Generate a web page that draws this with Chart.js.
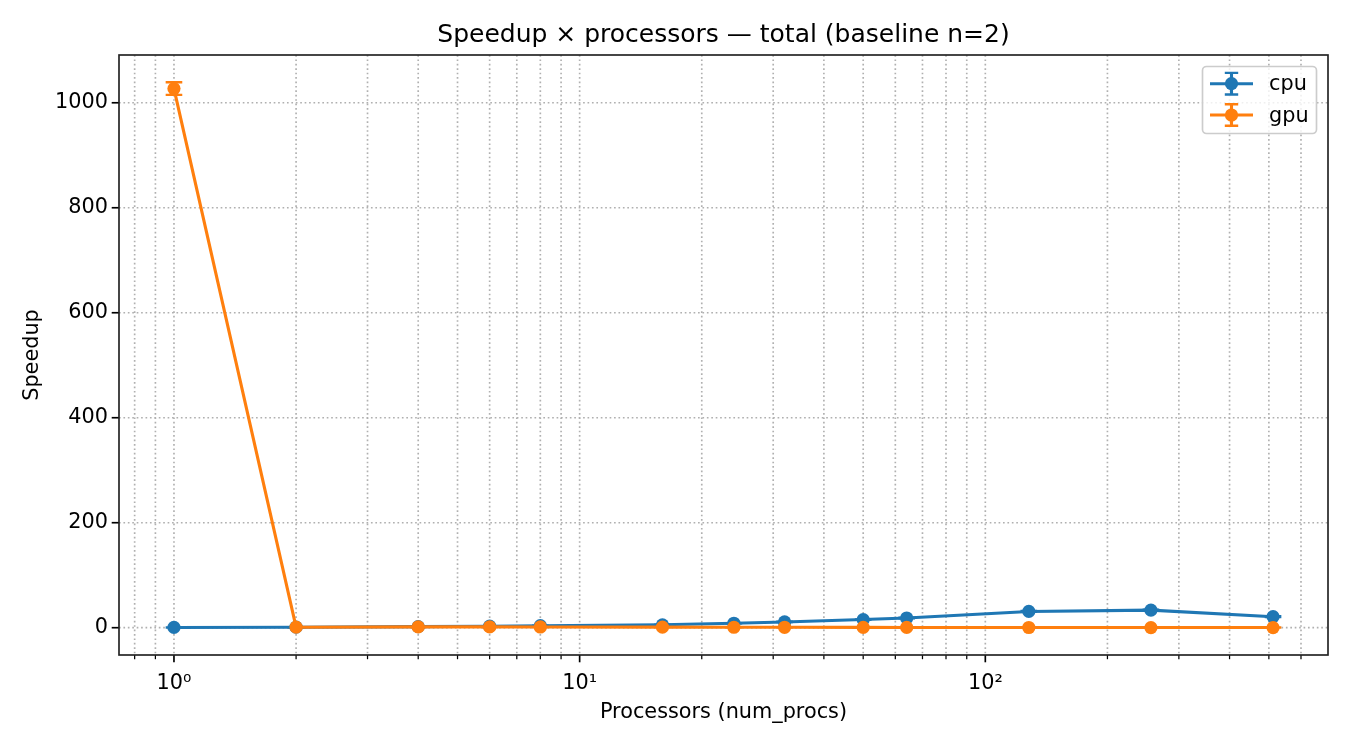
<!DOCTYPE html>
<html>
<head>
<meta charset="utf-8">
<script src="https://cdn.jsdelivr.net/npm/chart.js@4.4.1/dist/chart.umd.min.js"></script>
<style>
  html, body { margin: 0; padding: 0; background: #fff; }
</style>
</head>
<body>
<canvas id="graficoSpeedup" width="1350" height="750"></canvas>
<script>
// datos
const procs = [1, 2, 4, 6, 8, 16, 24, 32, 50, 64, 128, 256, 512];
const cpuSpeedup = [0.5, 1, 2, 2.9, 3.8, 5.5, 8.5, 11, 15.5, 18.5, 31, 33.5, 21];
const cpuErr = [0.02, 0.03, 0.05, 0.08, 0.1, 0.15, 0.2, 0.3, 0.4, 0.5, 0.8, 1, 0.7];
const gpuSpeedup = [1027, 1, 1.5, 1.5, 1.4, 1.1, 0.9, 0.8, 0.6, 0.5, 0.4, 0.3, 0.3];
const gpuErr = [12, 0.05, 0.05, 0.05, 0.05, 0.04, 0.03, 0.03, 0.02, 0.02, 0.02, 0.01, 0.01];
const yTicks = [0, 200, 400, 600, 800, 1000];
const xMajorTicks = [1, 10, 100];
const xMinorTicks = [0.8, 0.9, 2, 3, 4, 5, 6, 7, 8, 9, 20, 30, 40, 50, 60, 70, 80, 90, 200, 300, 400, 500, 600];
const xLim = [0.732, 699.4];
const yLim = [-52, 1091];

const AZUL = "#1f77b4";
const NARANJA = "#ff7f0e";
const FUENTE = "DejaVu Sans";
const sup = { "0": "\u2070", "1": "\u00b9", "2": "\u00b2" };

const series = [
  { label: "cpu", color: AZUL, values: cpuSpeedup, err: cpuErr },
  { label: "gpu", color: NARANJA, values: gpuSpeedup, err: gpuErr }
];

function barraError(ctx, px, y1, y2, medio) {
  ctx.lineWidth = 3.1;
  ctx.beginPath();
  ctx.moveTo(px, y1); ctx.lineTo(px, y2);
  ctx.stroke();
  ctx.lineWidth = 2.4;
  ctx.beginPath();
  ctx.moveTo(px - medio, y1); ctx.lineTo(px + medio, y1);
  ctx.moveTo(px - medio, y2); ctx.lineTo(px + medio, y2);
  ctx.stroke();
}

const marcoPlugin = {
  id: "marco",
  beforeDatasetsDraw(chart) {
    const { ctx, chartArea: a, scales: { x, y } } = chart;
    ctx.save();
    // rejilla punteada
    ctx.strokeStyle = "#b0b0b0";
    ctx.lineWidth = 1.67;
    ctx.setLineDash([1.67, 2.75]);
    x.ticks.forEach(t => {
      const px = x.getPixelForValue(t.value);
      ctx.beginPath(); ctx.moveTo(px, a.top); ctx.lineTo(px, a.bottom); ctx.stroke();
    });
    y.ticks.forEach(t => {
      const py = y.getPixelForValue(t.value);
      ctx.beginPath(); ctx.moveTo(a.left, py); ctx.lineTo(a.right, py); ctx.stroke();
    });
    ctx.setLineDash([]);
    // barras de error
    series.forEach(s => {
      ctx.strokeStyle = s.color;
      procs.forEach((p, i) => {
        const px = x.getPixelForValue(p);
        const y1 = y.getPixelForValue(s.values[i] + s.err[i]);
        const y2 = y.getPixelForValue(s.values[i] - s.err[i]);
        barraError(ctx, px, y1, y2, 8.3);
      });
    });
    ctx.restore();
  },
  afterDatasetsDraw(chart) {
    const { ctx, chartArea: a, scales: { x, y } } = chart;
    ctx.save();
    ctx.strokeStyle = "#000";
    // marcas de los ejes
    x.ticks.forEach(t => {
      const px = x.getPixelForValue(t.value);
      const largo = t.major ? 7.3 : 4.2;
      ctx.lineWidth = t.major ? 1.67 : 1.25;
      ctx.beginPath(); ctx.moveTo(px, a.bottom); ctx.lineTo(px, a.bottom + largo); ctx.stroke();
    });
    ctx.lineWidth = 1.67;
    y.ticks.forEach(t => {
      const py = y.getPixelForValue(t.value);
      ctx.beginPath(); ctx.moveTo(a.left, py); ctx.lineTo(a.left - 7.3, py); ctx.stroke();
    });
    // marco del área
    ctx.strokeStyle = "#222";
    ctx.strokeRect(a.left, a.top, a.right - a.left, a.bottom - a.top);
    ctx.restore();
  },
  afterDraw(chart) {
    const { ctx } = chart;
    ctx.save();
    // leyenda estilo matplotlib
    ctx.fillStyle = "rgba(255,255,255,0.8)";
    ctx.strokeStyle = "#cccccc";
    ctx.lineWidth = 1.67;
    ctx.beginPath();
    ctx.roundRect(1202.5, 66.5, 114, 67, 4);
    ctx.fill();
    ctx.stroke();
    const filas = [83.7, 115];
    series.forEach((s, i) => {
      const cy = filas[i];
      ctx.strokeStyle = s.color;
      ctx.fillStyle = s.color;
      ctx.lineWidth = 3.1;
      ctx.beginPath();
      ctx.moveTo(1210, cy); ctx.lineTo(1253, cy);
      ctx.stroke();
      barraError(ctx, 1231.5, cy - 10.8, cy + 10.8, 6.7);
      ctx.beginPath();
      ctx.arc(1231.5, cy, 6.6, 0, Math.PI * 2);
      ctx.fill();
      ctx.fillStyle = "#000";
      ctx.font = "20.8px '" + FUENTE + "'";
      ctx.textBaseline = "alphabetic";
      ctx.fillText(s.label, 1269, cy + 6.5);
    });
    ctx.restore();
  }
};

const ctx = document.getElementById("graficoSpeedup").getContext("2d");

new Chart(ctx, {
  type: "line",
  data: {
    datasets: series.map((s, i) => ({
      label: s.label,
      data: procs.map((p, j) => ({ x: p, y: s.values[j] })),
      borderColor: s.color,
      backgroundColor: s.color,
      pointBackgroundColor: s.color,
      pointBorderWidth: 0,
      pointRadius: 6.6,
      pointHoverRadius: 6.6,
      borderWidth: 3.1,
      tension: 0,
      fill: false,
      order: i === 0 ? 1 : 0
    }))
  },
  options: {
    responsive: false,
    animation: false,
    devicePixelRatio: 1,
    layout: { padding: { left: 0, right: 22, top: 0, bottom: 0 } },
    plugins: {
      legend: { display: false },
      tooltip: { enabled: false },
      title: {
        display: true,
        fullSize: false,
        text: "Speedup \u00d7 processors \u2014 total (baseline n=2)",
        color: "#000",
        font: { family: FUENTE, size: 25, weight: "normal" },
        padding: { top: 20, bottom: 5 }
      }
    },
    scales: {
      x: {
        type: "logarithmic",
        bounds: "data",
        min: xLim[0],
        max: xLim[1],
        grid: { display: false, drawTicks: false },
        border: { display: false },
        afterBuildTicks(scale) {
          scale.ticks = [...xMinorTicks, ...xMajorTicks]
            .sort((a, b) => a - b)
            .map(v => ({ value: v, major: xMajorTicks.includes(v) }));
        },
        afterFit(scale) { scale.height = 95; },
        ticks: {
          autoSkip: false,
          maxRotation: 0,
          minRotation: 0,
          padding: 16,
          color: "#000",
          font: { family: FUENTE, size: 20.8 },
          callback: v => xMajorTicks.includes(v) ? "10" + sup[String(Math.round(Math.log10(v)))] : ""
        },
        title: {
          display: true,
          text: "Processors (num_procs)",
          color: "#000",
          font: { family: FUENTE, size: 20.8 },
          padding: { top: 0, bottom: 24.5 }
        }
      },
      y: {
        type: "linear",
        bounds: "data",
        min: yLim[0],
        max: yLim[1],
        grid: { display: false, drawTicks: false },
        border: { display: false },
        afterBuildTicks(scale) {
          scale.ticks = yTicks.map(v => ({ value: v }));
        },
        afterFit(scale) { scale.width = 119; },
        ticks: {
          padding: 11,
          color: "#000",
          font: { family: FUENTE, size: 20.8 },
          callback: v => String(v)
        },
        title: {
          display: true,
          text: "Speedup",
          color: "#000",
          font: { family: FUENTE, size: 20.8 },
          padding: { top: 20, bottom: 0 }
        }
      }
    }
  },
  plugins: [marcoPlugin]
});
</script>
</body>
</html>
